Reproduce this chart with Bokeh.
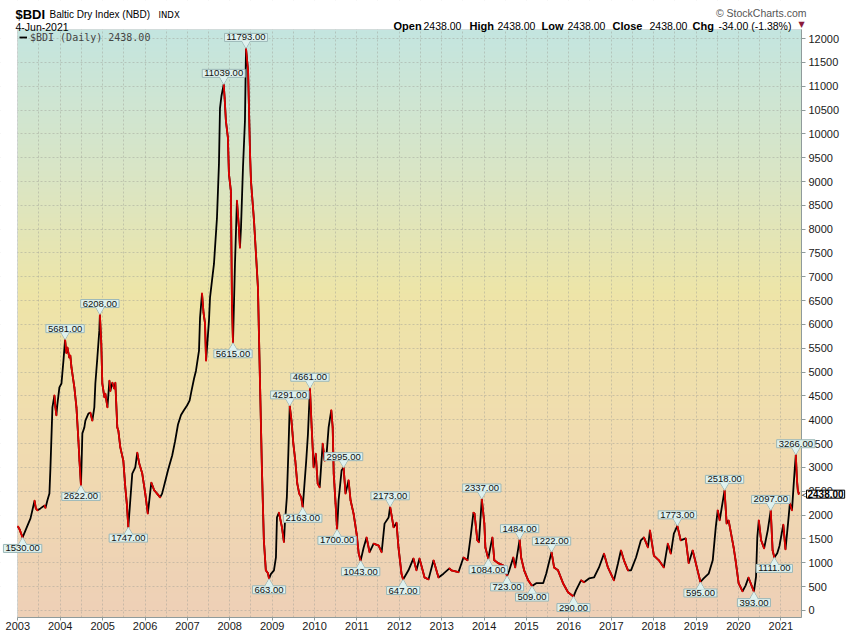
import numpy as np
import pandas as pd
from bokeh.plotting import figure
from bokeh.models import (Range1d, FixedTicker, SingleIntervalTicker, DatetimeTickFormatter,
                          Label, Legend, LegendItem, BoxAnnotation)
from bokeh.embed import file_html
from bokeh.resources import INLINE

# ---------------- data ----------------
bdi_2003 = [("01-02", 1760), ("01-16", 1700), ("01-25", 1640), ("02-11", 1530), ("03-08", 1680),
            ("04-20", 1930), ("05-25", 2300), ("06-05", 2140), ("06-20", 2100), ("07-15", 2140),
            ("08-19", 2200), ("08-27", 2150), ("09-13", 2310), ("09-30", 2450), ("10-09", 3000),
            ("10-26", 4260), ("11-12", 4510), ("11-21", 4260), ("11-29", 4090), ("12-08", 4330),
            ("12-25", 4680)]
bdi_2004 = [("01-12", 4760), ("01-29", 5240), ("02-12", 5681), ("02-23", 5400), ("03-03", 5520),
            ("03-20", 5300), ("03-28", 5350), ("04-07", 5100), ("05-02", 4680), ("05-20", 4260),
            ("06-06", 3560), ("06-15", 3140), ("06-28", 2622), ("07-10", 3710), ("07-27", 3840),
            ("08-05", 3980), ("08-31", 4130), ("09-17", 4150), ("10-04", 3980), ("10-21", 4260),
            ("10-30", 4760), ("11-16", 5300), ("12-03", 5870), ("12-08", 6208), ("12-20", 5600),
            ("12-29", 4760)]
bdi_2005 = [("01-16", 4470), ("01-24", 4550), ("02-11", 4260), ("02-28", 4820), ("03-08", 4600),
            ("03-25", 4780), ("04-11", 4650), ("04-20", 4780), ("05-07", 3840), ("05-16", 3770),
            ("06-02", 3420), ("06-28", 3140), ("07-15", 2580), ("07-28", 2240), ("08-10", 1747),
            ("08-27", 2310), ("09-13", 2870), ("10-09", 3000), ("10-26", 3310), ("11-12", 3080),
            ("12-08", 2870)]
bdi_2006 = [("01-03", 2450), ("01-25", 2030), ("02-24", 2680), ("03-21", 2520), ("04-15", 2450),
            ("05-11", 2370), ("05-28", 2450), ("06-23", 2700), ("07-19", 2950), ("08-23", 3250),
            ("09-17", 3550), ("10-12", 3900), ("11-07", 4100), ("12-02", 4200), ("12-29", 4300)]
bdi_2007 = [("01-20", 4400), ("02-05", 4600), ("02-27", 4860), ("03-16", 5030), ("04-11", 5450),
            ("04-20", 6140), ("05-07", 6650), ("05-20", 6250), ("06-02", 6020), ("06-11", 5240),
            ("07-06", 6080), ("07-15", 6560), ("08-01", 6920), ("08-18", 7270), ("09-13", 8240),
            ("09-30", 9370), ("10-09", 10540), ("10-22", 10800), ("11-10", 11039), ("11-18", 10750),
            ("11-29", 10270), ("12-16", 9920), ("12-25", 9160)]
bdi_2008 = [("01-11", 8800), ("01-20", 6440), ("01-29", 5615), ("02-15", 7270), ("03-03", 8600),
            ("03-20", 8030), ("03-29", 7610), ("04-07", 8030), ("04-24", 9290), ("05-11", 10270),
            ("05-20", 11793), ("06-07", 11320), ("06-24", 9580), ("07-02", 9010), ("07-28", 8180),
            ("08-14", 7480), ("08-31", 6770), ("09-17", 4860), ("10-04", 3000), ("10-21", 1470),
            ("11-07", 840), ("11-25", 780), ("12-05", 663), ("12-20", 760)]
bdi_2009 = [("01-16", 840), ("02-02", 1110), ("02-11", 1950), ("02-28", 2050), ("03-26", 1740),
            ("04-12", 1430), ("04-20", 1820), ("05-07", 2370), ("05-20", 3300), ("06-01", 4291),
            ("06-16", 3980), ("07-02", 3500), ("07-19", 3140), ("08-05", 2660), ("08-22", 2450),
            ("09-08", 2370), ("09-21", 2163), ("10-21", 3140), ("11-05", 3700), ("11-22", 4661),
            ("12-07", 3840), ("12-24", 3000)]
bdi_2010 = [("01-11", 3290), ("01-28", 2660), ("02-14", 2580), ("03-12", 3500), ("03-29", 3140),
            ("04-15", 3290), ("05-02", 3840), ("05-25", 4200), ("06-06", 3840), ("06-15", 2870),
            ("07-01", 2240), ("07-14", 1700), ("07-27", 2310), ("08-22", 2940), ("09-08", 2995),
            ("09-25", 2450), ("10-21", 2730), ("11-07", 2310), ("12-03", 2030), ("12-29", 1610)]
bdi_2011 = [("01-16", 1200), ("02-02", 1043), ("02-28", 1320), ("03-25", 1530), ("04-20", 1220),
            ("05-25", 1400), ("07-07", 1360), ("08-02", 1220), ("08-27", 1820), ("10-01", 1950),
            ("10-14", 2173), ("11-13", 1740), ("12-08", 1840), ("12-25", 1320)]
bdi_2012 = [("01-20", 770), ("02-03", 647), ("03-20", 840), ("05-02", 1090), ("05-28", 840),
            ("06-23", 1090), ("08-06", 690), ("09-09", 650), ("10-22", 1050), ("12-04", 690)]
bdi_2013 = [("01-16", 770), ("03-08", 880), ("03-25", 840), ("05-25", 800), ("07-07", 1110),
            ("08-11", 1050), ("09-06", 1530), ("10-01", 2050), ("10-10", 2030), ("11-04", 1470),
            ("11-17", 1430), ("12-12", 2337)]
bdi_2014 = [("01-03", 1820), ("01-12", 1320), ("02-06", 1084), ("02-24", 1320), ("03-13", 1530),
            ("03-30", 1050), ("05-03", 990), ("06-16", 940), ("07-18", 723), ("08-06", 840),
            ("09-09", 1110), ("09-26", 900), ("11-03", 1484), ("11-16", 1110), ("12-12", 840)]
bdi_2015 = [("01-16", 630), ("02-18", 509), ("03-26", 570), ("05-25", 570), ("06-20", 770),
            ("08-05", 1222), ("08-27", 900), ("09-30", 840), ("11-12", 570), ("12-25", 380)]
bdi_2016 = [("02-10", 290), ("03-03", 420), ("04-15", 630), ("05-11", 590), ("06-23", 670),
            ("08-05", 690), ("09-17", 900), ("10-30", 1190), ("12-03", 900)]
bdi_2017 = [("01-24", 630), ("02-28", 990), ("03-25", 1260), ("04-20", 1050), ("05-25", 840),
            ("06-20", 840), ("08-02", 1110), ("09-13", 1470), ("10-09", 1530), ("11-13", 1320),
            ("11-30", 1680)]
bdi_2018 = [("01-03", 1150), ("02-15", 1050), ("03-30", 900), ("05-03", 1400), ("05-29", 1190),
            ("06-24", 1610), ("07-24", 1773), ("08-22", 1470), ("10-04", 1510), ("10-30", 990),
            ("12-03", 1260)]
bdi_2019 = [("02-08", 595), ("03-08", 670), ("04-20", 770), ("05-25", 1050), ("06-20", 1740),
            ("07-07", 2100), ("07-24", 1890), ("09-04", 2518), ("09-22", 1820), ("10-09", 1890),
            ("11-21", 1320), ("12-08", 1050)]
bdi_2020 = [("01-03", 570), ("02-06", 400), ("03-03", 520), ("03-28", 690), ("05-14", 393),
            ("06-01", 700), ("06-12", 1530), ("06-25", 1890), ("07-15", 1470), ("08-10", 1300),
            ("09-10", 1680), ("10-06", 2097), ("10-22", 1260), ("11-06", 1111), ("12-01", 1200),
            ("12-20", 1350)]
bdi_2021 = [("01-22", 1800), ("02-10", 1280), ("03-05", 1850), ("03-20", 2250), ("04-07", 2100),
            ("04-20", 2580), ("04-30", 2940), ("05-10", 3266), ("05-20", 2730), ("05-28", 2500),
            ("06-03", 2472), ("06-04", 2438)]

series_years = [(2003, bdi_2003), (2004, bdi_2004), (2005, bdi_2005), (2006, bdi_2006),
                (2007, bdi_2007), (2008, bdi_2008), (2009, bdi_2009), (2010, bdi_2010),
                (2011, bdi_2011), (2012, bdi_2012), (2013, bdi_2013), (2014, bdi_2014),
                (2015, bdi_2015), (2016, bdi_2016), (2017, bdi_2017), (2018, bdi_2018),
                (2019, bdi_2019), (2020, bdi_2020), (2021, bdi_2021)]

peak_dates = ["2004-02-12", "2004-12-08", "2007-11-10", "2008-05-20", "2009-06-01", "2009-11-22",
              "2010-09-08", "2011-10-14", "2013-12-12", "2014-11-03", "2015-08-05", "2018-07-24",
              "2019-09-04", "2020-10-06", "2021-05-10"]
trough_dates = ["2003-02-11", "2004-06-28", "2005-08-10", "2008-01-29", "2008-12-05", "2009-09-21",
                "2010-07-14", "2011-02-02", "2012-02-03", "2014-02-06", "2014-07-18", "2015-02-18",
                "2016-02-10", "2019-02-08", "2020-05-14", "2020-11-06"]

year_labels = [str(y) for y in range(2003, 2022)]

# ---------------- build ----------------
dates, values = [], []
for yr, rows in series_years:
    for md, val in rows:
        dates.append(f"{yr}-{md}")
        values.append(val)
lookup = dict(zip(dates, values))
x = pd.to_datetime(dates)
v = np.array(values, dtype=float)


def ms(t):
    return pd.Timestamp(t).value / 1e6


# plot area (in data units) and where it sits on the 850x633 canvas
X0, X1 = ms("2002-12-29"), ms("2021-06-28")
Y0, Y1 = -150, 12190
W, H = 850, 633
PL, PR, PT, PB = 17, 801, 29, 617
UPX = (X1 - X0) / (PR - PL)
UPP = (Y1 - Y0) / (PB - PT)
FONT = "Liberation Sans"
BOXF, BOXL = "#dff1ee", "#9bb7b7"
RED = "#e00000"
AXC = "#8f9b9b"

# the frame covers the whole canvas so nothing gets clipped; axes are pinned to the plot area
p = figure(width=W, height=H, x_axis_type="datetime", y_axis_location="right",
           x_range=Range1d(X0 - PL * UPX, X1 + (W - PR) * UPX),
           y_range=Range1d(Y0 - (H - PB) * UPP, Y1 + PT * UPP),
           output_backend="svg", toolbar_location=None,
           min_border=0, min_border_left=0, min_border_right=0, min_border_top=0,
           min_border_bottom=0, background_fill_color="white", border_fill_color="white")
p.outline_line_color = None

# gradient background of the plot area
n = 256
frac_top = 1 - np.arange(n) / (n - 1)
stops = [0.0, 0.25, 0.45, 0.7, 1.0]
R = [196, 218, 238, 241, 238]
G = [229, 230, 229, 220, 208]
B = [224, 197, 168, 176, 183]
img = np.zeros((n, 1), dtype=np.uint32)
view = img.view(dtype=np.uint8).reshape((n, 1, 4))
view[:, 0, 0] = np.interp(frac_top, stops, R)
view[:, 0, 1] = np.interp(frac_top, stops, G)
view[:, 0, 2] = np.interp(frac_top, stops, B)
view[:, 0, 3] = 255
p.image_rgba(image=[img], x=X0, y=Y0, dw=X1 - X0, dh=Y1 - Y0, level="image")

# axes / grid
year_ticks = [ms(f"{y}-01-01") for y in year_labels]
half_ticks = [ms(f"{y}-{m}-01") for y in year_labels for m in ("01", "07")]
p.xaxis.ticker = FixedTicker(ticks=year_ticks)
fmt = "%Y"
p.xaxis.formatter = DatetimeTickFormatter(years=fmt, months=fmt, days=fmt, hours=fmt, hourmin=fmt,
                                          minutes=fmt, minsec=fmt, seconds=fmt,
                                          milliseconds=fmt, microseconds=fmt)
p.xgrid.ticker = FixedTicker(ticks=half_ticks)
p.yaxis.ticker = SingleIntervalTicker(interval=500, num_minor_ticks=0)
p.xaxis.fixed_location = Y0
p.yaxis.fixed_location = X1
p.xaxis.bounds = (X0, X1)
p.yaxis.bounds = (Y0, Y1)
p.xgrid.bounds = (X0, X1)
p.ygrid.bounds = (Y0, Y1)
for ax in (p.xaxis[0], p.yaxis[0]):
    ax.axis_line_color = AXC
    ax.major_tick_line_color = AXC
    ax.minor_tick_line_color = None
    ax.major_tick_in = 0
    ax.major_label_text_font = FONT
    ax.major_label_text_font_size = "11px"
    ax.major_label_text_color = "#1a1a1a"
p.xaxis.major_tick_out = 3
p.xaxis.major_label_standoff = 1
p.yaxis.major_tick_out = 4
p.yaxis.major_label_standoff = 3
p.grid.grid_line_color = "#9c9c94"
p.grid.grid_line_alpha = 0.45
p.grid.grid_line_dash = "2 2"
p.grid.grid_line_width = 1

# keep the grid inside the plot area: white margins drawn over it, then the plot border
for kw in (dict(top=Y0), dict(bottom=Y1), dict(right=X0), dict(left=X1)):
    p.add_layout(BoxAnnotation(fill_color="white", fill_alpha=1, line_alpha=0,
                               level="underlay", **kw))
p.add_layout(BoxAnnotation(left=X0, right=X1, bottom=Y0, top=Y1, fill_alpha=0,
                           line_color=AXC, line_width=1, level="underlay"))

# price line: black base, red where falling
line_r = p.line(x, v, line_color="black", line_width=1.8)
down = v[1:] < v[:-1]
p.segment(x0=x[:-1][down], y0=v[:-1][down], x1=x[1:][down], y1=v[1:][down],
          line_color=RED, line_width=1.8, line_cap="round")

# callouts
TRI = 9
apex = TRI / 2 * np.sqrt(3) * 2 / 3
pk_x = pd.to_datetime(peak_dates)
pk_v = np.array([lookup[d] for d in peak_dates], dtype=float)
tr_x = pd.to_datetime(trough_dates)
tr_v = np.array([lookup[d] for d in trough_dates], dtype=float)

p.scatter(pk_x, pk_v + apex * UPP, marker="inverted_triangle", size=TRI,
          fill_color=BOXF, line_color=BOXL, line_width=1)
p.scatter(tr_x, tr_v - apex * UPP, marker="triangle", size=TRI,
          fill_color=BOXF, line_color=BOXL, line_width=1)

for dx, dv, above in [(d, val, True) for d, val in zip(pk_x, pk_v)] + \
                     [(d, val, False) for d, val in zip(tr_x, tr_v)]:
    p.add_layout(Label(x=ms(dx), y=dv, text=f"{dv:.2f}", text_align="center",
                       text_baseline="bottom" if above else "top",
                       y_offset=7 if above else -7,
                       text_font=FONT, text_font_size="9.5px", text_color="#111",
                       background_fill_color=BOXF, border_line_color=BOXL, border_line_width=1,
                       padding=(2, 1)))

p.scatter(pk_x, pk_v + apex * UPP, marker="inverted_triangle", size=TRI - 1,
          fill_color=BOXF, line_color=None, level="overlay")
p.scatter(tr_x, tr_v - apex * UPP, marker="triangle", size=TRI - 1,
          fill_color=BOXF, line_color=None, level="overlay")

# last value marker on the axis
last, prev = values[-1], values[-2]
p.add_layout(Label(x=X1, y=last, x_offset=0, text="\u25c1",
                   text_align="left", text_baseline="middle", text_font="DejaVu Sans",
                   text_font_size="11px", text_color="black"))
p.add_layout(Label(x=X1, y=last, x_offset=5, text=f"{last:.2f}",
                   text_align="left", text_baseline="middle", text_font=FONT,
                   text_font_size="10px", text_font_style="bold", text_color="black",
                   background_fill_color="white", border_line_color="black",
                   border_line_width=1, padding=(1, 0)))

# legend (location = lower-left corner, screen px from the canvas bottom-left)
legend = Legend(items=[LegendItem(label=f"$BDI (Daily) {last:.2f}", renderers=[line_r])],
                location=(19, H - 43), background_fill_alpha=0, border_line_alpha=0,
                margin=0, padding=0, spacing=0, glyph_width=8, glyph_height=12,
                label_standoff=3, label_height=12,
                label_text_font="DejaVu Sans Mono", label_text_font_size="10px")
p.add_layout(legend)


# header texts (page pixel positions; y measured from the canvas bottom)
def hdr(text, sx, sy, size, style="normal", color="#000", font=FONT, align="left"):
    p.add_layout(Label(x=sx, y=H - sy, x_units="screen", y_units="screen", text=text,
                       text_align=align, text_baseline="alphabetic", text_font=font,
                       text_font_size=size, text_font_style=style, text_color=color))


chg = last - prev
pct = chg / prev * 100
last_day = x[-1]
hdr("$BDI", 15, 14, "13px", "bold")
hdr("Baltic Dry Index (NBD)", 49, 14, "10px")
hdr("INDX", 158, 14, "8.5px", font="DejaVu Sans")
hdr(f"{last_day.day}-{last_day.strftime('%b-%Y')}", 15, 26, "10.5px")
hdr("\u00a9 StockCharts.com", 806, 12, "10.5px", color="#555555", align="right")
hdr("Open", 393, 25, "11px", "bold")
hdr(f"{last:.2f}", 423, 25, "10.5px")
hdr("High", 469, 25, "11px", "bold")
hdr(f"{last:.2f}", 497, 25, "10.5px")
hdr("Low", 541, 25, "11px", "bold")
hdr(f"{last:.2f}", 567, 25, "10.5px")
hdr("Close", 612, 25, "11px", "bold")
hdr(f"{last:.2f}", 649, 25, "10.5px")
hdr("Chg", 692, 25, "11px", "bold")
hdr(f"{chg:.2f} ({pct:.2f}%)", 718, 25, "10.5px")
hdr("\u25bc", 798, 24, "8px", color="#8b1a3a", font="DejaVu Sans")

open("out.html", "w").write(file_html(p, INLINE))
